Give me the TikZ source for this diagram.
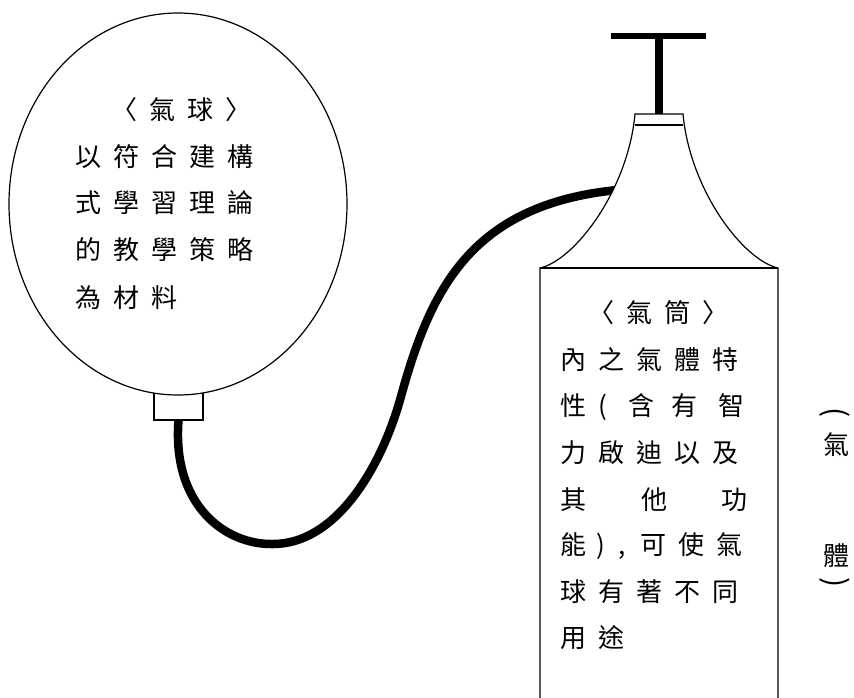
\documentclass[tikz,border=0pt]{standalone}
\usepackage{fontspec}
\newfontfamily\cjk{Noto Sans CJK TC}
\usetikzlibrary{shapes.geometric,positioning}

\tikzset{
  outline/.style={draw, line width=1.2pt},
  hose/.style={line width=8.5pt, line cap=butt},
  zi/.style={font=\cjk\fontsize{26pt}{30pt}\selectfont, inner sep=0pt, anchor=west},
  paren/.style={font=\cjk\fontsize{30pt}{34pt}\selectfont, inner sep=0pt, rotate=-90},
}
% one fixed cell per character
\newcommand\spaced[1]{\foreach \ch in {#1}{\makebox[38pt][l]{\ch}}}

\begin{document}
\begin{tikzpicture}[x=1pt,y=-1pt]
\useasboundingbox (0,0) rectangle (854,697);

% balloon with its neck
\node[outline, rectangle, minimum width=49pt, minimum height=27pt, inner sep=0pt] (valve) at (178.5,406.5) {};
\node[outline, ellipse, fill=white, minimum width=338pt, minimum height=382pt, inner sep=0pt] (balloon) at (178,204) {};

% hose from the neck to the pump
\coordinate (nozzle) at (617,190);
\draw[hose] (valve.south) .. controls (172,505) and (225,545) .. (273,544)
  .. controls (335,544) and (380,470) .. (400,400)
  .. controls (430,290) and (470,205) .. (nozzle);

% pump: flared top, body, collar and handle
\draw[outline, fill=white] (540,700) -- (540,268) .. controls (575,260) and (628,190) .. (635,114)
  -- (683,114) .. controls (690,190) and (743,260) .. (778,268) -- (778,700);
\draw[outline] (540,268) -- (778,268);
\draw[outline] (635,125) -- (683,125);
\draw[line width=7.5pt] (659,114) -- (659,36);
\draw[line width=6pt] (611,36) -- (706,36);

% text in the balloon
\node[zi] (btitle) at (111,110) {\spaced{〈,氣,球,〉}};
\node[zi] (b1) at (75,157) {\spaced{以,符,合,建,構}};
\node[zi] (b2) at (75,203) {\spaced{式,學,習,理,論}};
\node[zi] (b3) at (75,250) {\spaced{的,教,學,策,略}};
\node[zi] (b4) at (75,298) {\spaced{為,材,料}};

% text in the pump
\node[zi] (ptitle) at (588,313) {\spaced{〈,氣,筒,〉}};
\node[zi] (p1) at (560,360) {\spaced{內,之,氣,體,特}};
\node[zi] (p2) at (560,407) {\makebox[38pt][l]{性}\makebox[30pt][l]{(}\makebox[43pt][l]{含}\makebox[47pt][l]{有}智};
\node[zi] (p3) at (560,453) {\spaced{力,啟,迪,以,及}};
\node[zi] (p4) at (560,500) {\makebox[81pt][l]{其}\makebox[80pt][l]{他}功};
\node[zi] (p5) at (560,546) {\makebox[36pt][l]{能}\makebox[22pt][l]{)}\makebox[22pt][l]{,}\spaced{可,使,氣}};
\node[zi] (p6) at (560,592) {\spaced{球,有,著,不,同}};
\node[zi] (p7) at (560,638) {\spaced{用,途}};

% side label, set upright
\node[paren] (lp) at (835,413) {(};
\node[zi, anchor=center] (s1) at (836,445) {氣};
\node[zi, anchor=center] (s2) at (836,556) {體};
\node[paren] (rp) at (835,583) {)};
\end{tikzpicture}
\end{document}
